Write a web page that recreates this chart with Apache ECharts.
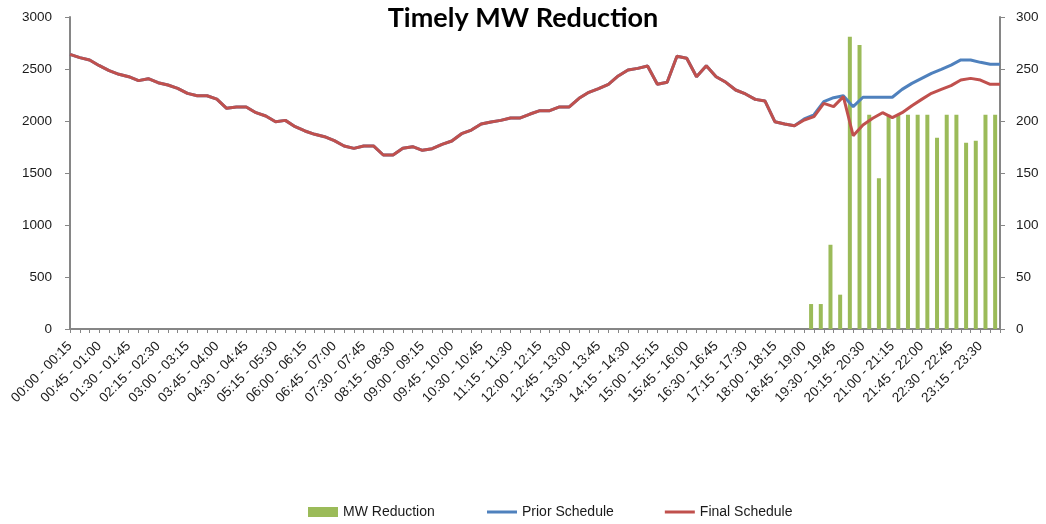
<!DOCTYPE html>
<html>
<head>
<meta charset="utf-8">
<title>Timely MW Reduction</title>
<script src="https://cdn.jsdelivr.net/npm/echarts@6/dist/echarts.min.js"></script>
<style>
  html, body { margin: 0; padding: 0; background: #ffffff; }
  #chart { width: 1046px; height: 524px; }
</style>
</head>
<body>
<div id="chart"></div>
<script>
// 15-minute settlement intervals of the day
const categories = [
  "00:00 - 00:15","00:15 - 00:30","00:30 - 00:45","00:45 - 01:00",
  "01:00 - 01:15","01:15 - 01:30","01:30 - 01:45","01:45 - 02:00",
  "02:00 - 02:15","02:15 - 02:30","02:30 - 02:45","02:45 - 03:00",
  "03:00 - 03:15","03:15 - 03:30","03:30 - 03:45","03:45 - 04:00",
  "04:00 - 04:15","04:15 - 04:30","04:30 - 04:45","04:45 - 05:00",
  "05:00 - 05:15","05:15 - 05:30","05:30 - 05:45","05:45 - 06:00",
  "06:00 - 06:15","06:15 - 06:30","06:30 - 06:45","06:45 - 07:00",
  "07:00 - 07:15","07:15 - 07:30","07:30 - 07:45","07:45 - 08:00",
  "08:00 - 08:15","08:15 - 08:30","08:30 - 08:45","08:45 - 09:00",
  "09:00 - 09:15","09:15 - 09:30","09:30 - 09:45","09:45 - 10:00",
  "10:00 - 10:15","10:15 - 10:30","10:30 - 10:45","10:45 - 11:00",
  "11:00 - 11:15","11:15 - 11:30","11:30 - 11:45","11:45 - 12:00",
  "12:00 - 12:15","12:15 - 12:30","12:30 - 12:45","12:45 - 13:00",
  "13:00 - 13:15","13:15 - 13:30","13:30 - 13:45","13:45 - 14:00",
  "14:00 - 14:15","14:15 - 14:30","14:30 - 14:45","14:45 - 15:00",
  "15:00 - 15:15","15:15 - 15:30","15:30 - 15:45","15:45 - 16:00",
  "16:00 - 16:15","16:15 - 16:30","16:30 - 16:45","16:45 - 17:00",
  "17:00 - 17:15","17:15 - 17:30","17:30 - 17:45","17:45 - 18:00",
  "18:00 - 18:15","18:15 - 18:30","18:30 - 18:45","18:45 - 19:00",
  "19:00 - 19:15","19:15 - 19:30","19:30 - 19:45","19:45 - 20:00",
  "20:00 - 20:15","20:15 - 20:30","20:30 - 20:45","20:45 - 21:00",
  "21:00 - 21:15","21:15 - 21:30","21:30 - 21:45","21:45 - 22:00",
  "22:00 - 22:15","22:15 - 22:30","22:30 - 22:45","22:45 - 23:00",
  "23:00 - 23:15","23:15 - 23:30","23:30 - 23:45","23:45 - 24:00"
];

// MW reduction per interval (right axis); none before 19:00
const mwReduction = [
  null,null,null,null,null,null,null,null,null,null,null,null,null,null,null,null,
  null,null,null,null,null,null,null,null,null,null,null,null,null,null,null,null,
  null,null,null,null,null,null,null,null,null,null,null,null,null,null,null,null,
  null,null,null,null,null,null,null,null,null,null,null,null,null,null,null,null,
  null,null,null,null,null,null,null,null,null,null,null,null,
  24,24,81,33,281,273,206,145,206,206,206,206,206,184,206,206,179,181,206,206
];

// Schedule before the reduction was applied (MW, left axis)
const priorSchedule = [
  2641,2609,2587,2532,2484,2449,2426,2388,2407,2368,2346,2314,2266,2243,2243,2211,
  2122,2135,2135,2080,2048,1993,2006,1945,1904,1872,1849,1811,1760,1737,1760,1760,
  1673,1673,1737,1753,1718,1734,1776,1808,1878,1913,1971,1990,2006,2029,2029,2067,
  2099,2099,2135,2135,2218,2276,2311,2353,2433,2490,2506,2529,2353,2372,2622,2603,
  2426,2532,2426,2372,2298,2260,2208,2192,1993,1971,1955,2020,2060,2186,2224,2243,
  2138,2228,2228,2228,2228,2304,2362,2410,2458,2497,2538,2587,2587,2564,2545,2545
];

// Final schedule after the reduction (MW, left axis)
const finalSchedule = [
  2641,2609,2587,2532,2484,2449,2426,2388,2407,2368,2346,2314,2266,2243,2243,2211,
  2122,2135,2135,2080,2048,1993,2006,1945,1904,1872,1849,1811,1760,1737,1760,1760,
  1673,1673,1737,1753,1718,1734,1776,1808,1878,1913,1971,1990,2006,2029,2029,2067,
  2099,2099,2135,2135,2218,2276,2311,2353,2433,2490,2506,2529,2353,2372,2622,2603,
  2426,2532,2426,2372,2298,2260,2208,2192,1993,1971,1955,2010,2042,2170,2138,2234,
  1859,1962,2026,2080,2032,2080,2147,2208,2266,2304,2340,2394,2410,2394,2353,2353
];

// Axis scales
const leftAxis = { min: 0, max: 3000, interval: 500 };
const rightAxis = { min: 0, max: 300, interval: 50 };

const FONT = "'Liberation Sans', 'DejaVu Sans', sans-serif";
const AXIS_GRAY = '#868686';
const TEXT = '#1a1a1a';
const plainNumber = v => String(v);

const chart = echarts.init(document.getElementById('chart'), null, { renderer: 'canvas' });

chart.setOption({
  animation: false,
  backgroundColor: '#ffffff',
  title: {
    text: 'Timely MW Reduction',
    left: 'center',
    top: 0,
    textStyle: { fontFamily: "Lato, 'Open Sans', sans-serif", fontWeight: 'bold', fontSize: 27, color: '#000000' }
  },
  legend: [
    {
      // bar entry: filled box
      top: 505,
      left: 308,
      padding: 0,
      itemWidth: 30,
      itemHeight: 10,
      icon: 'rect',
      textStyle: { fontFamily: FONT, fontSize: 14, color: TEXT },
      data: ['MW Reduction']
    },
    {
      // line entries: plain stroke
      top: 505,
      left: 487,
      padding: 0,
      itemGap: 51,
      itemWidth: 30,
      itemHeight: 3,
      icon: 'rect',
      textStyle: { fontFamily: FONT, fontSize: 14, color: TEXT },
      data: ['Prior Schedule', 'Final Schedule']
    }
  ],
  grid: { left: 70, right: 46, top: 17, bottom: 195, containLabel: false },
  xAxis: [
    {
      // axis carrying the schedule lines and the visible labels
      type: 'category',
      data: categories,
      boundaryGap: false,
      axisLine: { show: true, lineStyle: { color: AXIS_GRAY, width: 2 } },
      axisTick: { show: true, interval: 0, length: 4, lineStyle: { color: AXIS_GRAY, width: 1 } },
      axisLabel: {
        interval: 2,
        rotate: 45,
        fontFamily: FONT,
        fontSize: 13.5,
        color: TEXT,
        margin: 15
      },
      splitLine: { show: false }
    },
    {
      // axis carrying the reduction bars
      type: 'category',
      data: categories,
      boundaryGap: true,
      position: 'bottom',
      show: false
    }
  ],
  yAxis: [
    {
      type: 'value',
      min: leftAxis.min,
      max: leftAxis.max,
      interval: leftAxis.interval,
      position: 'left',
      axisLine: { show: true, lineStyle: { color: AXIS_GRAY, width: 2 } },
      axisTick: { show: true, length: 5, lineStyle: { color: AXIS_GRAY } },
      axisLabel: { fontFamily: FONT, fontSize: 13.5, color: TEXT, margin: 18, formatter: plainNumber },
      splitLine: { show: false }
    },
    {
      type: 'value',
      min: rightAxis.min,
      max: rightAxis.max,
      interval: rightAxis.interval,
      position: 'right',
      axisLine: { show: true, lineStyle: { color: AXIS_GRAY, width: 2 } },
      axisTick: { show: true, length: 5, lineStyle: { color: AXIS_GRAY } },
      axisLabel: { fontFamily: FONT, fontSize: 13.5, color: TEXT, margin: 16, formatter: plainNumber },
      splitLine: { show: false }
    }
  ],
  series: [
    {
      name: 'MW Reduction',
      type: 'bar',
      xAxisIndex: 1,
      yAxisIndex: 1,
      data: mwReduction,
      barWidth: 4,
      itemStyle: { color: '#9BBB59' },
      z: 1
    },
    {
      name: 'Prior Schedule',
      type: 'line',
      xAxisIndex: 0,
      yAxisIndex: 0,
      data: priorSchedule,
      symbol: 'none',
      lineStyle: { color: '#4F81BD', width: 3 },
      itemStyle: { color: '#4F81BD' },
      z: 2
    },
    {
      name: 'Final Schedule',
      type: 'line',
      xAxisIndex: 0,
      yAxisIndex: 0,
      data: finalSchedule,
      symbol: 'none',
      lineStyle: { color: '#C0504D', width: 3 },
      itemStyle: { color: '#C0504D' },
      z: 3
    }
  ]
});
</script>
</body>
</html>
